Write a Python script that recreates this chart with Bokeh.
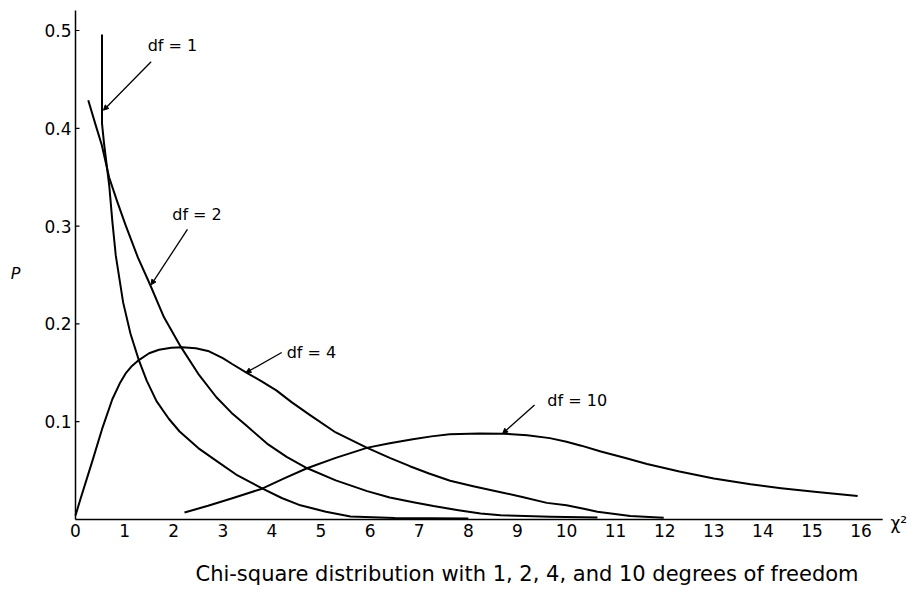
from bokeh.plotting import figure
from bokeh.models import Range1d, Arrow, NormalHead, ColumnDataSource
from bokeh.core.properties import value
from bokeh.embed import file_html
from bokeh.resources import INLINE

# ---------------- data ----------------
x_df1 = [0.54, 0.54, 0.55, 0.58, 0.69, 0.75, 0.82, 0.97, 1.12, 1.29, 1.45, 1.65, 1.90, 2.12, 2.50, 2.87,
         3.30, 3.81, 4.20, 4.58, 5.10, 5.60, 6.50, 8.00]
y_df1 = [0.496, 0.405, 0.400, 0.385, 0.340, 0.305, 0.270, 0.222, 0.190, 0.163, 0.142, 0.121, 0.103, 0.090,
         0.073, 0.060, 0.045, 0.0315, 0.022, 0.0145, 0.008, 0.003, 0.0015, 0.001]

x_df2 = [0.26, 0.40, 0.535, 0.684, 0.85, 1.02, 1.27, 1.52, 1.80, 2.14, 2.50, 2.87, 3.18, 3.48, 3.90, 4.30,
         4.72, 5.30, 5.94, 6.40, 6.88, 7.29, 7.80, 8.25, 8.66, 9.67, 10.63]
y_df2 = [0.4286, 0.405, 0.383, 0.350, 0.325, 0.301, 0.268, 0.240, 0.207, 0.177, 0.149, 0.125, 0.109, 0.096,
         0.0776, 0.064, 0.0524, 0.040, 0.029, 0.0225, 0.0177, 0.0137, 0.0095, 0.0061, 0.0043, 0.0028, 0.002]

x_df4 = [0.0, 0.098, 0.22, 0.354, 0.551, 0.75, 0.90, 1.03, 1.15, 1.29, 1.50, 1.70, 1.95, 2.17, 2.45, 2.72,
         3.00, 3.19, 3.49, 3.80, 4.09, 4.40, 4.77, 5.30, 5.93, 6.40, 6.81, 7.20, 7.63, 8.10, 8.59, 9.10,
         9.60, 10.00, 10.35, 10.63, 11.30, 11.98]
y_df4 = [0.004, 0.0205, 0.040, 0.0615, 0.094, 0.123, 0.139, 0.150, 0.157, 0.163, 0.170, 0.1736, 0.1755,
         0.176, 0.175, 0.172, 0.165, 0.159, 0.150, 0.141, 0.132, 0.120, 0.107, 0.089, 0.0735, 0.063, 0.0545,
         0.047, 0.0396, 0.034, 0.0287, 0.023, 0.017, 0.0145, 0.011, 0.008, 0.0035, 0.0019]

x_df10 = [2.22, 2.70, 3.21, 3.80, 4.25, 4.715, 5.30, 5.95, 6.40, 6.87, 7.25, 7.62, 8.23, 8.70, 9.20, 9.66,
          10.00, 10.30, 10.70, 11.20, 11.64, 12.30, 13.00, 13.75, 14.37, 15.10, 15.93]
y_df10 = [0.0072, 0.014, 0.022, 0.0315, 0.042, 0.0524, 0.063, 0.0735, 0.078, 0.0821, 0.085, 0.0872, 0.0879,
          0.0878, 0.0862, 0.0832, 0.0795, 0.0755, 0.0695, 0.0628, 0.0568, 0.049, 0.042, 0.036, 0.032, 0.028, 0.024]

x_ticks = list(range(0, 17))
x_tick_labels = [str(v) for v in x_ticks]
y_ticks = [0.1, 0.2, 0.3, 0.4, 0.5]
y_tick_labels = ["0.1", "0.2", "0.3", "0.4", "0.5"]
x_axis_end = 16.44
y_axis_end = 0.5204

# curve labels: text, label (x, y), leader start (x, y), arrow tip (x, y)
curve_labels = ["df = 1", "df = 2", "df = 4", "df = 10"]
label_pos = [(1.47, 0.485), (1.97, 0.312), (4.30, 0.171), (9.61, 0.122)]
leader_start = [(1.54, 0.468), (2.28, 0.2966), (4.20, 0.1708), (9.35, 0.117)]
leader_tip = [(0.57, 0.4185), (1.54, 0.240), (3.47, 0.150), (8.70, 0.088)]

caption = "Chi-square distribution with 1, 2, 4, and 10 degrees of freedom"
y_title = "P"
x_title = "\u03c7\u00b2"

# ---------------- layout ----------------
FONT = value("DejaVu Sans")
W, H = 908, 592
PXX, PXY = 49.1, 978.0          # pixels per data unit
X0, Y0 = 75.0, 519.0            # canvas position of the data origin

p = figure(width=W, height=H, output_backend="svg", toolbar_location=None,
           x_range=Range1d(-X0 / PXX, (W - X0) / PXX),
           y_range=Range1d((Y0 - H) / PXY, Y0 / PXY),
           x_axis_location=None, y_axis_location=None, min_border=0)
p.outline_line_color = None
p.grid.visible = False
p.background_fill_color = "white"
p.border_fill_color = "white"

# curves
for xs, ys in [(x_df1, y_df1), (x_df2, y_df2), (x_df4, y_df4), (x_df10, y_df10)]:
    p.line(xs, ys, line_color="black", line_width=2, line_join="round")

# axis lines
p.segment(x0=[0, 0], y0=[0, 0], x1=[x_axis_end, 0], y1=[0, y_axis_end], line_color="black", line_width=1.5)

# y ticks (small, inside) and labels
p.segment(x0=[0] * len(y_ticks), y0=y_ticks, x1=[4 / PXX] * len(y_ticks), y1=y_ticks,
          line_color="black", line_width=1.2)
p.text(x=[-4 / PXX] * len(y_ticks), y=y_ticks, text=y_tick_labels, text_align="right",
       text_baseline="middle", text_font=FONT, text_font_size="17px", text_color="black")

# x tick labels
p.text(x=x_ticks, y=[-11 / PXY] * len(x_ticks), text=x_tick_labels, text_align="center",
       text_baseline="middle", text_font=FONT, text_font_size="17px", text_color="black")

# curve labels with leader arrows
src = ColumnDataSource(dict(x=[q[0] for q in label_pos], y=[q[1] for q in label_pos], t=curve_labels))
p.text(x="x", y="y", text="t", source=src, text_align="left", text_baseline="middle",
       text_font=FONT, text_font_size="16px", text_color="black")
for (sx, sy), (tx, ty) in zip(leader_start, leader_tip):
    p.add_layout(Arrow(x_start=sx, y_start=sy, x_end=tx, y_end=ty, line_width=1.3,
                       line_color="black",
                       end=NormalHead(size=5, fill_color="black", line_color="black")))

# titles
p.text(x=[-60 / PXX], y=[(Y0 - 273) / PXY], text=[y_title], text_align="center", text_baseline="middle",
       text_font=FONT, text_font_size="16px", text_font_style="italic", text_color="black")
p.text(x=[(890 - X0) / PXX], y=[(Y0 - 522) / PXY], text=[x_title], text_align="left", text_baseline="middle",
       text_font=FONT, text_font_size="17px", text_color="black")
p.text(x=[(526.5 - X0) / PXX], y=[(Y0 - 573) / PXY], text=[caption], text_align="center",
       text_baseline="middle", text_font=FONT, text_font_size="21px", text_color="black")

open("out.html", "w").write(file_html(p, INLINE))
